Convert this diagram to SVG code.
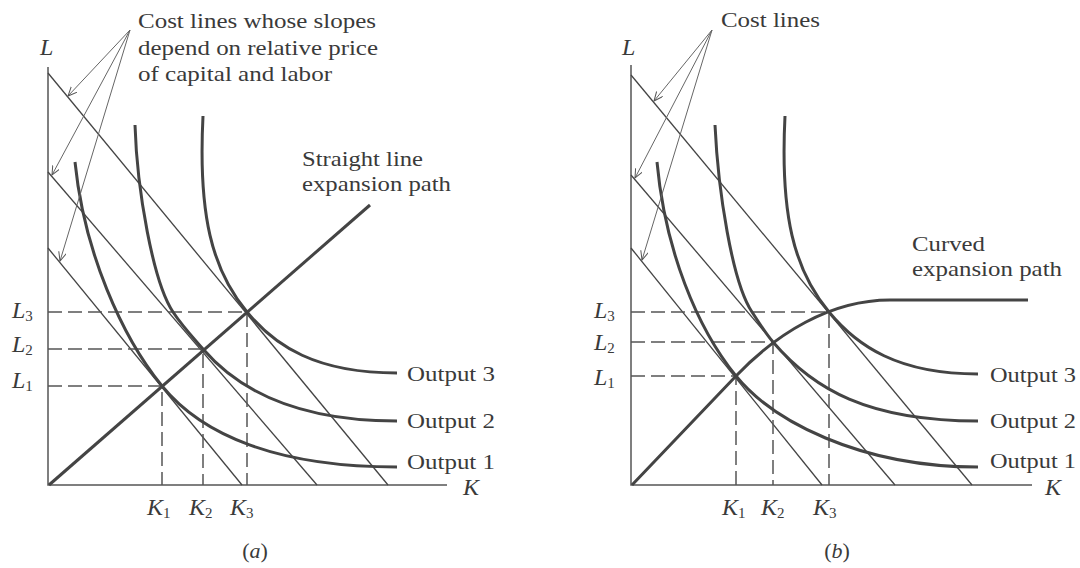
<svg xmlns="http://www.w3.org/2000/svg" width="1080" height="568" viewBox="0 0 1080 568">
<defs>
<marker id="arr" markerUnits="userSpaceOnUse" markerWidth="12" markerHeight="10" refX="9" refY="4" orient="auto">
<path d="M0,0 L9,4 L0,8" fill="none" stroke="#555" stroke-width="1"/>
</marker>
<style>
.axis{stroke:#555;stroke-width:1.5;fill:none}
.cost{stroke:#444;stroke-width:1.3;fill:none}
.iso{stroke:#444;stroke-width:3;fill:none;stroke-linecap:butt}
.exp{stroke:#444;stroke-width:3;fill:none}
.dash{stroke:#555;stroke-width:1.5;fill:none;stroke-dasharray:14 6}
.ptr{stroke:#666;stroke-width:1;fill:none}
.t{font-family:"Liberation Serif",serif;font-size:22px;fill:#3a3a3a}
.it{font-family:"Liberation Serif",serif;font-style:italic;font-size:24px;fill:#3a3a3a}
.sub{font-style:normal;font-size:15px}
</style>
</defs>
<rect width="1080" height="568" fill="#ffffff"/>

<g id="panel-a">
<g id="a-axes">
<path class="axis" d="M48,67 L48,485 L447,485"/>
<text class="it" x="40" y="55">L</text>
<text class="it" x="463" y="495">K</text>
</g>
<g id="a-costlines">
<line class="cost" x1="48" y1="73" x2="388" y2="485"/>
<line class="cost" x1="48" y1="172" x2="317" y2="485"/>
<line class="cost" x1="48" y1="248" x2="242" y2="485"/>
</g>
<g id="a-dashes">
<path class="dash" d="M48,312 H247 V485"/>
<path class="dash" d="M48,349 H203 V485"/>
<path class="dash" d="M48,386 H162 V485"/>
</g>
<g id="a-output1">
<path class="iso" d="M75,162 C84,252 122,337 162,386 C202,435 277,467 397,467"/>
<text class="t" x="407" y="469" textLength="88" lengthAdjust="spacingAndGlyphs">Output 1</text>
</g>
<g id="a-output2">
<path class="iso" d="M135,125 C137,190 153,282 173,312 C183,327 193,337.4 203,349 C233,384 287,421 397,421"/>
<text class="t" x="407" y="428" textLength="88" lengthAdjust="spacingAndGlyphs">Output 2</text>
</g>
<g id="a-output3">
<path class="iso" d="M203,116 C198,215 212,270 247,312 C275,346 316,373 397,373"/>
<text class="t" x="407" y="381" textLength="88" lengthAdjust="spacingAndGlyphs">Output 3</text>
</g>
<g id="a-expansion">
<line class="exp" x1="49" y1="485" x2="370" y2="205"/>
<text class="t" x="302" y="166" textLength="121" lengthAdjust="spacingAndGlyphs">Straight line</text>
<text class="t" x="302" y="191" textLength="149" lengthAdjust="spacingAndGlyphs">expansion path</text>
</g>
<g id="a-costlabel">
<text class="t" x="138" y="28" textLength="238" lengthAdjust="spacingAndGlyphs">Cost lines whose slopes</text>
<text class="t" x="138" y="55" textLength="240" lengthAdjust="spacingAndGlyphs">depend on relative price</text>
<text class="t" x="138" y="81" textLength="194" lengthAdjust="spacingAndGlyphs">of capital and labor</text>
</g>
<g id="a-ticks">
<text class="it" x="12" y="318">L<tspan class="sub" dy="3">3</tspan></text>
<text class="it" x="12" y="352">L<tspan class="sub" dy="3">2</tspan></text>
<text class="it" x="12" y="388">L<tspan class="sub" dy="3">1</tspan></text>
<text class="it" x="147" y="515">K<tspan class="sub" dy="3">1</tspan></text>
<text class="it" x="189" y="515">K<tspan class="sub" dy="3">2</tspan></text>
<text class="it" x="230" y="515">K<tspan class="sub" dy="3">3</tspan></text>
</g>
<text class="t" x="255" y="558" text-anchor="middle">(<tspan font-style="italic">a</tspan>)</text>
</g>

<g id="panel-b">
<g id="b-axes">
<path class="axis" d="M631,65 L631,485 L1032,485"/>
<text class="it" x="622" y="55">L</text>
<text class="it" x="1045" y="495">K</text>
</g>
<g id="b-costlines">
<line class="cost" x1="631" y1="75" x2="972" y2="485"/>
<line class="cost" x1="631" y1="175" x2="895" y2="485"/>
<line class="cost" x1="631" y1="248" x2="822" y2="485"/>
</g>
<g id="b-dashes">
<path class="dash" d="M631,312 H829 V485"/>
<path class="dash" d="M631,342 H773 V485"/>
<path class="dash" d="M631,376 H736 V485"/>
</g>
<g id="b-output1">
<path class="iso" d="M657,162 C665,250 697,328 736,376 C772,420 858,467 978,467"/>
<text class="t" x="990" y="468" textLength="86" lengthAdjust="spacingAndGlyphs">Output 1</text>
</g>
<g id="b-output2">
<path class="iso" d="M715,125 C718,190 732,282 752,312 C759,322.5 765,332.6 773,342 C813,389 868,421 978,421"/>
<text class="t" x="990" y="428" textLength="86" lengthAdjust="spacingAndGlyphs">Output 2</text>
</g>
<g id="b-output3">
<path class="iso" d="M785,116 C780,215 794,270 829,312 C857,346 898,374 978,374"/>
<text class="t" x="990" y="382" textLength="86" lengthAdjust="spacingAndGlyphs">Output 3</text>
</g>
<g id="b-expansion">
<path class="exp" d="M632,485 L736,376 C776,334 830,300 890,300 L1028,300"/>
<text class="t" x="912" y="251" textLength="73" lengthAdjust="spacingAndGlyphs">Curved</text>
<text class="t" x="912" y="276" textLength="150" lengthAdjust="spacingAndGlyphs">expansion path</text>
</g>
<g id="b-costlabel">
<text class="t" x="721" y="27" textLength="99" lengthAdjust="spacingAndGlyphs">Cost lines</text>
</g>
<g id="b-ticks">
<text class="it" x="594" y="318">L<tspan class="sub" dy="3">3</tspan></text>
<text class="it" x="594" y="350">L<tspan class="sub" dy="3">2</tspan></text>
<text class="it" x="594" y="385">L<tspan class="sub" dy="3">1</tspan></text>
<text class="it" x="722" y="515">K<tspan class="sub" dy="3">1</tspan></text>
<text class="it" x="761" y="515">K<tspan class="sub" dy="3">2</tspan></text>
<text class="it" x="813" y="515">K<tspan class="sub" dy="3">3</tspan></text>
</g>
<text class="t" x="837" y="558" text-anchor="middle">(<tspan font-style="italic">b</tspan>)</text>
</g>

<g id="connectors">
<line class="ptr" x1="130" y1="30" x2="68" y2="96" marker-end="url(#arr)"/>
<line class="ptr" x1="130" y1="30" x2="52" y2="175" marker-end="url(#arr)"/>
<line class="ptr" x1="130" y1="30" x2="60" y2="261" marker-end="url(#arr)"/>
<line class="ptr" x1="712" y1="30" x2="654" y2="101" marker-end="url(#arr)"/>
<line class="ptr" x1="712" y1="30" x2="635" y2="178" marker-end="url(#arr)"/>
<line class="ptr" x1="712" y1="30" x2="642" y2="260" marker-end="url(#arr)"/>
</g>
</svg>
